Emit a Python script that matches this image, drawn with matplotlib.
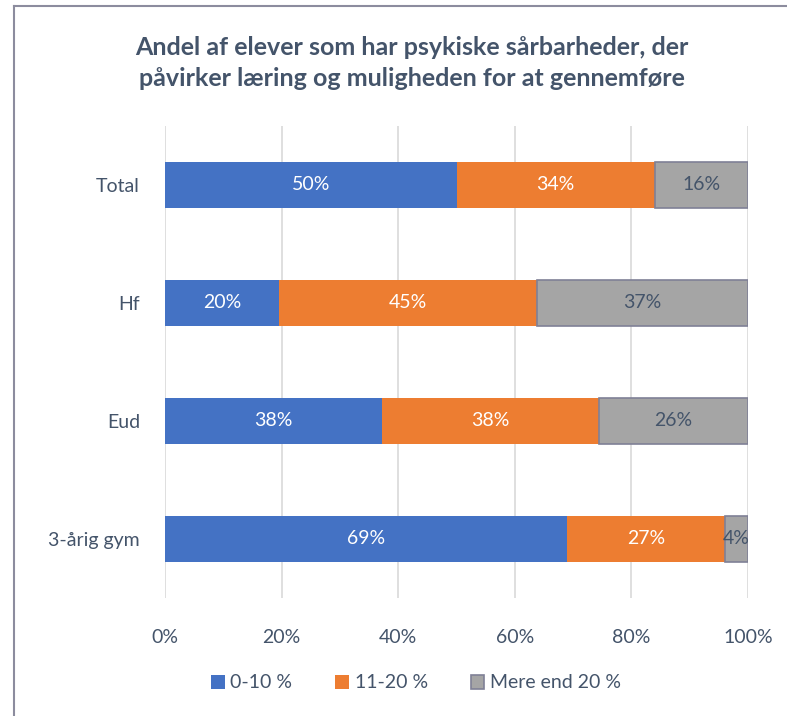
import numpy as np
import matplotlib.pyplot as plt
from matplotlib.lines import Line2D

plt.rcParams['font.family'] = ['Lato', 'DejaVu Sans']

# data (top to bottom as shown)
categories = ['Total', 'Hf', 'Eud', '3-årig gym']
series = ['0-10 %', '11-20 %', 'Mere end 20 %']
low = [50, 20, 38, 69]
mid = [34, 45, 38, 27]
high = [16, 37, 26, 4]

colors = ['#4472C4', '#ED7D31', '#A5A5A5']
edges = ['#4472C4', '#ED7D31', '#7F8096']
label_colors = ['white', 'white', '#44546A']
text_col = '#44546A'

vals = np.array([low, mid, high], dtype=float)
shares = vals / vals.sum(axis=0)

fig = plt.figure(figsize=(7.87, 7.16), dpi=100)
ax = fig.add_axes([165/787, 118/716, 583/787, 472/716])

y = np.arange(len(categories))[::-1]
left = np.zeros(len(categories))
for i, name in enumerate(series):
    bars = ax.barh(y, shares[i], left=left, height=0.39, color=colors[i],
                   edgecolor=edges[i], linewidth=1.2 if i == 2 else 0.0,
                   label=name, zorder=3)
    for j, b in enumerate(bars):
        ax.text(left[j] + shares[i][j] / 2, y[j], '%d%%' % vals[i][j],
                ha='center', va='center', fontsize=14, color=label_colors[i], zorder=4)
    left += shares[i]

ax.set_xlim(0, 1)
ax.set_ylim(-0.5, len(categories) - 0.5)
ax.set_xticks(np.linspace(0, 1, 6))
ax.set_xticklabels(['0%', '20%', '40%', '60%', '80%', '100%'])
ax.set_yticks(y)
ax.set_yticklabels(categories)
ax.tick_params(axis='both', length=0, labelsize=14, labelcolor=text_col)
ax.tick_params(axis='x', pad=22)
ax.tick_params(axis='y', pad=18)
ax.grid(axis='x', color='#D9D9D9', linewidth=1.2, zorder=0)
for s in ax.spines.values():
    s.set_visible(False)

fig.text(412/787, 1 - 63/716, 'Andel af elever som har psykiske sårbarheder, der\npåvirker læring og muligheden for at gennemføre',
         ha='center', va='center', fontsize=18, fontweight='bold', color=text_col, linespacing=1.4)

fig.legend(loc='center', bbox_to_anchor=(416/787, 1 - 683/716), ncol=3, frameon=False,
           fontsize=14, labelcolor=text_col, handlelength=0.7, handleheight=0.7,
           handletextpad=0.3, columnspacing=2.2)

# chart border (left and top only, cropped)
fig.add_artist(Line2D([14/787, 14/787], [0, 1 - 6/716], color='#8C8C9E', linewidth=1.5))
fig.add_artist(Line2D([14/787, 1], [1 - 6/716, 1 - 6/716], color='#8C8C9E', linewidth=1.5))

fig.savefig('out.png', dpi=100)
